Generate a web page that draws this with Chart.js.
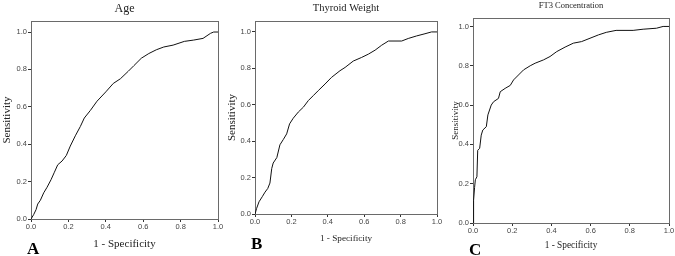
<!DOCTYPE html>
<html>
<head>
<style>
    body { margin: 0; background: #fff; }
    #wrap { position: relative; width: 675px; height: 256px; overflow: hidden; background: #fff; }
    .panel { position: absolute; top: 0; width: 225px; height: 256px; }
    .letter {
        position: absolute;
        font-family: "Liberation Serif", serif;
        font-weight: bold;
        font-size: 17px;
        color: #000;
        line-height: 1;
    }
</style>
</head>
<body>
<div id="wrap">
    <div class="panel" style="left:0px"><canvas id="chartA" width="225" height="256"></canvas></div>
    <div class="panel" style="left:225px"><canvas id="chartB" width="225" height="256"></canvas></div>
    <div class="panel" style="left:450px"><canvas id="chartC" width="225" height="256"></canvas></div>
    <div class="letter" style="left:27px; top:240px">A</div>
    <div class="letter" style="left:251px; top:235px">B</div>
    <div class="letter" style="left:469px; top:241px">C</div>
</div>

<script src="https://cdn.jsdelivr.net/npm/chart.js"></script>
<script>
    // ROC curves (1 - specificity vs sensitivity)
    const ageX = [0, 0.014, 0.027, 0.036, 0.05, 0.068, 0.086, 0.107, 0.125, 0.143, 0.166, 0.189, 0.21, 0.237, 0.264, 0.285, 0.317, 0.353, 0.40, 0.44, 0.478, 0.52, 0.55, 0.59, 0.63, 0.67, 0.71, 0.76, 0.82, 0.87, 0.92, 0.96, 0.977, 1];
    const ageY = [0, 0.023, 0.05, 0.08, 0.10, 0.14, 0.17, 0.21, 0.25, 0.29, 0.31, 0.34, 0.39, 0.445, 0.495, 0.54, 0.58, 0.63, 0.68, 0.725, 0.75, 0.79, 0.82, 0.86, 0.885, 0.905, 0.92, 0.93, 0.95, 0.957, 0.966, 0.993, 1, 1];

    const thyroidX = [0, 0.009, 0.022, 0.04, 0.055, 0.07, 0.082, 0.092, 0.10, 0.12, 0.137, 0.156, 0.174, 0.19, 0.21, 0.238, 0.266, 0.293, 0.32, 0.348, 0.385, 0.42, 0.467, 0.495, 0.54, 0.586, 0.623, 0.66, 0.696, 0.733, 0.806, 0.842, 0.888, 0.934, 0.97, 1];
    const thyroidY = [0, 0.031, 0.067, 0.095, 0.12, 0.14, 0.17, 0.25, 0.28, 0.31, 0.38, 0.41, 0.44, 0.495, 0.526, 0.56, 0.587, 0.623, 0.65, 0.678, 0.714, 0.75, 0.787, 0.805, 0.84, 0.86, 0.878, 0.90, 0.927, 0.95, 0.95, 0.964, 0.978, 0.99, 1, 1];

    const ft3X = [0, 0.003, 0.008, 0.012, 0.02, 0.024, 0.034, 0.042, 0.05, 0.068, 0.076, 0.093, 0.105, 0.13, 0.139, 0.164, 0.19, 0.207, 0.232, 0.258, 0.292, 0.317, 0.36, 0.393, 0.427, 0.47, 0.512, 0.554, 0.597, 0.64, 0.68, 0.73, 0.817, 0.868, 0.936, 0.97, 1];
    const ft3Y = [0, 0.116, 0.18, 0.22, 0.235, 0.37, 0.38, 0.447, 0.473, 0.49, 0.55, 0.60, 0.617, 0.634, 0.668, 0.685, 0.70, 0.728, 0.753, 0.779, 0.80, 0.813, 0.83, 0.847, 0.872, 0.895, 0.915, 0.923, 0.94, 0.957, 0.97, 0.98, 0.98, 0.986, 0.991, 1, 1];

    const tickStep = 0.2;
    const xTitle = "1 - Specificity";
    const yTitle = "Sensitivity";

    const serif = "'Liberation Serif', 'Times New Roman', serif";
    const sans = "'Liberation Sans', Arial, sans-serif";

    function makePanel(id, xs, ys, cfg) {
        const points = xs.map((x, i) => ({ x: x, y: ys[i] }));
        const tickGrid = { display: true, drawOnChartArea: false, drawTicks: true, tickLength: 3, color: '#333' };
        const frame = { display: true, color: '#6a6a6a', width: 1 };
        const tickFont = { family: sans, size: 7.5 };

        return new Chart(document.getElementById(id), {
            type: 'scatter',
            data: {
                datasets: [{
                    data: points,
                    showLine: true,
                    borderColor: '#111',
                    borderWidth: 1,
                    pointRadius: 0,
                    tension: 0,
                    fill: false
                }]
            },
            options: {
                responsive: false,
                animation: false,
                layout: { padding: { left: 0, right: cfg.padRight, top: 0, bottom: 0 } },
                plugins: {
                    legend: { display: false },
                    tooltip: { enabled: false },
                    title: {
                        display: true,
                        text: cfg.title,
                        fullSize: false,
                        color: '#222',
                        font: { family: serif, size: cfg.titleSize, weight: 'normal' },
                        padding: { top: cfg.titlePadTop, bottom: cfg.titlePadBottom }
                    }
                },
                scales: {
                    x: {
                        type: 'linear',
                        position: 'bottom',
                        min: 0,
                        max: 1,
                        ticks: {
                            stepSize: tickStep,
                            includeBounds: false,
                            padding: 0,
                            color: '#444',
                            font: tickFont,
                            maxRotation: 0,
                            callback: v => v.toFixed(1)
                        },
                        grid: tickGrid,
                        border: frame,
                        title: {
                            display: true,
                            text: xTitle,
                            color: '#222',
                            font: { family: serif, size: cfg.xTitleSize },
                            padding: { top: 0, bottom: cfg.xTitlePad }
                        },
                        afterFit: s => { s.height = cfg.xAxisH; }
                    },
                    y: {
                        type: 'linear',
                        position: 'left',
                        min: 0,
                        max: cfg.yMax,
                        ticks: {
                            stepSize: tickStep,
                            includeBounds: false,
                            padding: 1,
                            color: '#444',
                            font: tickFont,
                            callback: v => v.toFixed(1)
                        },
                        grid: tickGrid,
                        border: frame,
                        title: {
                            display: true,
                            text: yTitle,
                            color: '#222',
                            font: { family: serif, size: cfg.yTitleSize },
                            padding: { top: cfg.yTitlePad, bottom: 0 }
                        },
                        afterFit: s => { s.width = cfg.yAxisW; }
                    },
                    // top and right edges of the frame
                    x2: {
                        type: 'linear',
                        position: 'top',
                        min: 0,
                        max: 1,
                        ticks: { display: false },
                        grid: { display: false },
                        border: frame,
                        afterFit: s => { s.height = 0; }
                    },
                    y2: {
                        type: 'linear',
                        position: 'right',
                        min: 0,
                        max: cfg.yMax,
                        ticks: { display: false },
                        grid: { display: false },
                        border: frame,
                        afterFit: s => { s.width = 0; }
                    }
                }
            }
        });
    }

    makePanel('chartA', ageX, ageY, {
        title: 'Age', titleSize: 12, titlePadTop: 2, titlePadBottom: 4.6,
        xTitleSize: 11, xTitlePad: 5, yTitleSize: 11, yTitlePad: 0.5,
        yAxisW: 31, xAxisH: 37, padRight: 7, yMax: 1.059
    });

    makePanel('chartB', thyroidX, thyroidY, {
        title: 'Thyroid Weight', titleSize: 10.5, titlePadTop: 2, titlePadBottom: 6.4,
        xTitleSize: 9.2, xTitlePad: 11.5, yTitleSize: 11, yTitlePad: 0.5,
        yAxisW: 30, xAxisH: 42, padRight: 13, yMax: 1.06
    });

    makePanel('chartC', ft3X, ft3Y, {
        title: 'FT3 Concentration', titleSize: 8.5, titlePadTop: 0.5, titlePadBottom: 7.3,
        xTitleSize: 9.3, xTitlePad: 4.6, yTitleSize: 9, yTitlePad: 0,
        yAxisW: 23, xAxisH: 33, padRight: 6, yMax: 1.043
    });
</script>
</body>
</html>
